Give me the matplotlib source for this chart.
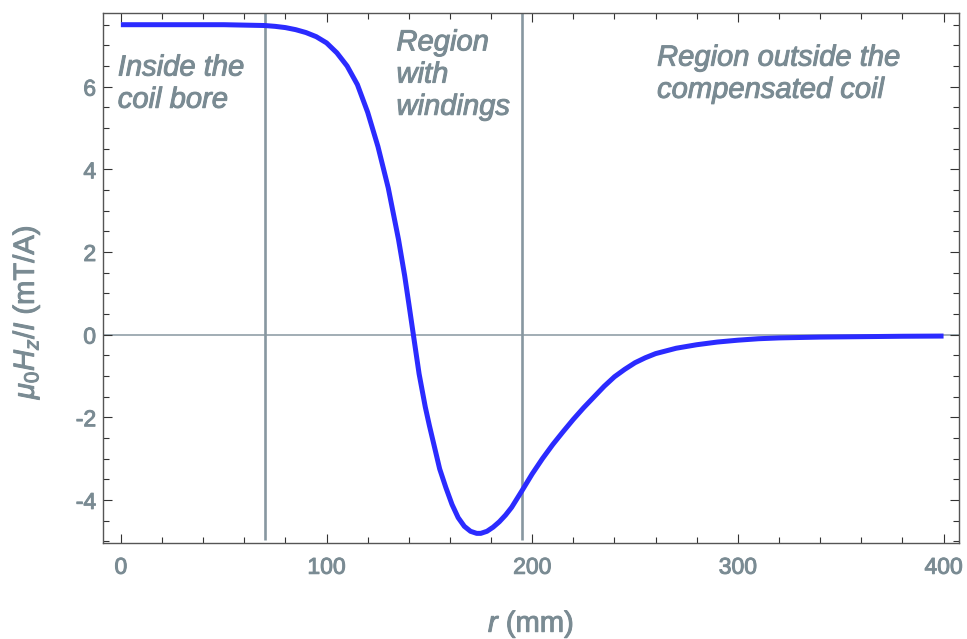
import matplotlib
matplotlib.use('Agg')
import matplotlib.pyplot as plt
import matplotlib.patheffects as pe
from matplotlib.ticker import MultipleLocator

# radius (mm) and on-plane field per unit current (mT/A)
r_mm = [0, 10, 20, 30, 40, 50, 60, 70, 75, 80, 85, 90, 95, 100, 105, 110, 115,
        120, 125, 130, 135, 138, 140, 142, 145, 148, 150, 152, 155, 158, 161,
        164, 167, 170, 173, 175, 178, 181, 184, 187, 190, 195, 200, 205, 210,
        215, 220, 225, 230, 235, 240, 245, 250, 255, 260, 270, 280, 290, 300,
        310, 320, 340, 360, 380, 400]
field = [7.50, 7.50, 7.50, 7.50, 7.50, 7.50, 7.49, 7.48, 7.46, 7.43, 7.38,
         7.31, 7.21, 7.06, 6.82, 6.50, 6.05, 5.38, 4.55, 3.55, 2.30, 1.42,
         0.75, 0.07, -0.95, -1.75, -2.20, -2.62, -3.25, -3.70, -4.11, -4.43,
         -4.64, -4.76, -4.81, -4.81, -4.76, -4.66, -4.53, -4.37, -4.18, -3.78,
         -3.37, -3.00, -2.66, -2.35, -2.05, -1.77, -1.51, -1.25, -1.02, -0.84,
         -0.68, -0.56, -0.46, -0.33, -0.245, -0.18, -0.135, -0.10, -0.08,
         -0.06, -0.05, -0.04, -0.035]

# region borders (mm) and region captions
region_bounds = [70, 195]
region_labels = ['Inside the\ncoil bore',
                 'Region\nwith\nwindings',
                 'Region outside the\ncompensated coil']

x_ticks = [0, 100, 200, 300, 400]
y_ticks = [-4, -2, 0, 2, 4, 6]

grey = '#7a8b93'
line_grey = '#8797a0'
bolder = [pe.Stroke(linewidth=0.7, foreground=grey), pe.Normal()]

plt.rcParams['font.family'] = ['Liberation Sans', 'DejaVu Sans']
plt.rcParams['axes.unicode_minus'] = False
plt.rcParams['mathtext.fontset'] = 'custom'
plt.rcParams['mathtext.rm'] = 'Liberation Sans'
plt.rcParams['mathtext.it'] = 'Liberation Sans:italic'
plt.rcParams['mathtext.bf'] = 'Liberation Sans:bold'

fig = plt.figure(figsize=(9.67, 6.39), dpi=100)
ax = fig.add_axes([0.1065, 0.1498, 0.8852, 0.8303])

ax.set_xlim(-8.7, 407.5)
ax.set_ylim(-5.05, 7.79)

# нулевая линия и границы областей
ax.axhline(0, color=line_grey, lw=1.1, zorder=1)
ax.vlines(region_bounds, -4.97, 7.79, colors=line_grey, lw=1.9, zorder=2)

ax.plot(r_mm, field, color='#2b2bff', lw=3.6, solid_capstyle='butt',
        solid_joinstyle='round', zorder=3)

# подписи областей (привязка по базовой линии последней строки)
text_pos = [(-1.5, 5.49), (134, 5.32), (260.7, 5.73)]
for (tx, ty), txt in zip(text_pos, region_labels):
    ax.text(tx, ty, txt, color=grey, fontsize=21, style='italic',
            ha='left', va='baseline', linespacing=1.19, path_effects=bolder)

ax.set_xticks(x_ticks)
ax.set_yticks(y_ticks)
ax.xaxis.set_minor_locator(MultipleLocator(20))
ax.yaxis.set_minor_locator(MultipleLocator(0.5))
ax.tick_params(which='both', direction='in', top=True, right=True,
               color='#333333', width=0.8, labelcolor=grey, labelsize=16.5)
ax.tick_params(which='major', length=6.5)
ax.tick_params(which='minor', length=4)
ax.tick_params(axis='x', pad=9)
ax.tick_params(axis='y', pad=5)
for lab in ax.get_xticklabels() + ax.get_yticklabels():
    lab.set_path_effects(bolder)
for s in ax.spines.values():
    s.set_color('#555555')
    s.set_linewidth(1.0)

ax.set_xlabel('$r$ (mm)', color=grey, fontsize=21, va='baseline',
              path_effects=bolder)
ax.xaxis.set_label_coords(0.5, -0.167)
ax.set_ylabel(r'$\mu_0 H_z/I$ (mT/A)', color=grey, fontsize=21, va='center',
              path_effects=bolder)
ax.yaxis.set_label_coords(-0.090, 0.436)

fig.savefig('out.png', dpi=100)
